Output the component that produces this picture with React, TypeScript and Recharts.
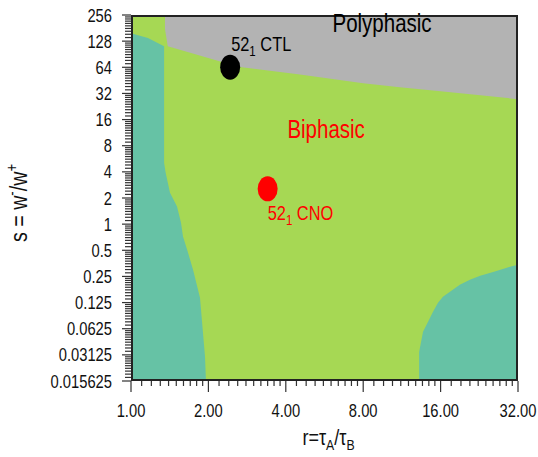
import { Area, ComposedChart, Scatter, XAxis, YAxis } from "recharts"

// the reference text is a narrow sans; Liberation Sans squeezed sideways stands in for it
const FONT = '"Liberation Sans", Arial, sans-serif'
const SQUEEZE = 0.82
const R_MIN = 1
const R_MAX = 32
const S_MIN = 0.015625
const S_MAX = 256

const rTicks = [1, 2, 4, 8, 16, 32]
const sTicks = [0.015625, 0.03125, 0.0625, 0.125, 0.25, 0.5, 1, 2, 4, 8, 16, 32, 64, 128, 256]
const minorSteps = [1.1, 1.2, 1.3, 1.4, 1.5, 1.6, 1.7, 1.8, 1.9]

// biphasic covers the whole plane, the other phases are painted over it
const biphasicR = [R_MIN, R_MAX]

// monophasic (left): upper edge of the region at each r
const monoLeftR = [1, 1.164, 1.345, 1.345, 1.364, 1.418, 1.51, 1.565, 1.593, 1.666, 1.742, 1.855, 1.94, 1.957]
const monoLeftS = [158, 139, 112, 5.1, 3.9, 2.3, 1.6, 1.04, 0.72, 0.47, 0.3, 0.142, 0.03, 0.015625]

// polyphasic: lower edge
const polyR = [1.356, 1.39, 2.26, 2.65, 4.54, 8, 11.1, 16, 32]
const polyS = [176, 112, 73.5, 64.5, 53, 42, 37.8, 33.8, 27.5]

// monophasic (bottom right): upper edge
const monoRightR = [13.2, 13.67, 14.3, 14.95, 15.63, 16.34, 17.4, 19.0, 20.8, 22.8, 26.0, 29.8, 32]
const monoRightS = [0.0338, 0.0575, 0.075, 0.098, 0.124, 0.146, 0.166, 0.2, 0.229, 0.255, 0.284, 0.323, 0.341]

const pointNames = ["CTL", "CNO"]
const pointR = [2.43, 3.4]
const pointS = [64, 2.55]

const regionNames = ["Polyphasic", "Biphasic"]
const regionR = [9.47, 5.74]
const regionS = [206, 12.4]

const biphasic = biphasicR.map((r) => ({ r, band: [S_MIN, S_MAX] }))
const monoLeft = monoLeftR.map((r, i) => ({ r, band: [S_MIN, monoLeftS[i]] }))
const poly = polyR.map((r, i) => ({ r, band: [polyS[i], S_MAX] }))
const monoRight = monoRightR.map((r, i) => ({ r, band: [S_MIN, monoRightS[i]] }))
const points = pointNames.map((name, i) => ({ name, r: pointR[i], s: pointS[i] }))
const regions = regionNames.map((name, i) => ({ name, r: regionR[i], s: regionS[i] }))

// plot frame as four thin filled bands along the domain edges
const PLOT_W = 538 - 131 - 20
const PLOT_H = 457 - 15 - 76
const FRAME_PX = 2
const kx = Math.pow(R_MAX / R_MIN, FRAME_PX / PLOT_W)
const ky = Math.pow(S_MAX / S_MIN, FRAME_PX / PLOT_H)
const frameBands = [
  [R_MIN, R_MAX].map((r) => ({ r, band: [S_MAX / ky, S_MAX] })),
  [R_MIN, R_MAX].map((r) => ({ r, band: [S_MIN, S_MIN * ky] })),
  [R_MIN, R_MIN * kx].map((r) => ({ r, band: [S_MIN, S_MAX] })),
  [R_MAX / kx, R_MAX].map((r) => ({ r, band: [S_MIN, S_MAX] })),
]

const withMinor = (major: number[]) => [
  ...major,
  ...major.slice(0, -1).flatMap((t) => minorSteps.map((m) => t * m)),
]
const rAllTicks = withMinor(rTicks)
const sAllTicks = withMinor(sTicks)

const TICK = "#333"
const FRAME = "#222"

function NText({ x, y, size, anchor = "start", fill = "#111", rotate = 0, children }: any) {
  return (
    <text
      transform={`translate(${x},${y}) rotate(${rotate}) scale(${SQUEEZE},1)`}
      fontSize={size}
      fontFamily={FONT}
      textAnchor={anchor}
      fill={fill}
    >
      {children}
    </text>
  )
}

function BottomTick({ x, y, payload }: any) {
  const major = rTicks.includes(payload.value)
  return (
    <g>
      <rect x={x - 0.6} y={y} width={1.2} height={major ? 11 : 5} fill={TICK} />
      {major && (
        <NText x={x} y={y + 36} size={18} anchor="middle">
          {payload.value.toFixed(2)}
        </NText>
      )}
    </g>
  )
}

function TopTick({ x, y, payload }: any) {
  const len = rTicks.includes(payload.value) ? 10 : 5
  return <rect x={x - 0.6} y={y - len} width={1.2} height={len} fill={TICK} />
}

function LeftTick({ x, y, payload }: any) {
  const major = sTicks.includes(payload.value)
  const len = major ? 9 : 6
  return (
    <g>
      <rect x={x - len} y={y - 0.6} width={len} height={1.2} fill={TICK} />
      {major && (
        <NText x={x - 19} y={y + 6.5} size={18} anchor="end">
          {String(payload.value)}
        </NText>
      )}
    </g>
  )
}

function RightTick({ x, y, payload }: any) {
  const len = sTicks.includes(payload.value) ? 10 : 6
  return <rect x={x} y={y - 0.6} width={len} height={1.2} fill={TICK} />
}

function XTitle({ viewBox }: any) {
  const cx = viewBox.x + viewBox.width / 2 + 4
  return (
    <NText x={cx} y={445} size={22} anchor="middle">
      <tspan>r=τ</tspan>
      <tspan fontSize={15} dy={5}>A</tspan>
      <tspan dy={-5}>/τ</tspan>
      <tspan fontSize={15} dy={5}>B</tspan>
    </NText>
  )
}

function YTitle({ viewBox }: any) {
  const cy = viewBox.y + viewBox.height / 2 + 5
  return (
    <NText x={27} y={cy} size={24} anchor="middle" rotate={-90}>
      <tspan>s = w</tspan>
      <tspan fontSize={16} dy={-10}>-</tspan>
      <tspan dy={10}>/w</tspan>
      <tspan fontSize={16} dy={-10}>+</tspan>
    </NText>
  )
}

const labelPlace: Record<string, { dx: number; dy: number; color: string }> = {
  CTL: { dx: 1, dy: -16, color: "#000" },
  CNO: { dx: 0, dy: 31, color: "#ff0000" },
}

function PointMark({ cx, cy, payload }: any) {
  const p = labelPlace[payload.name]
  return (
    <g>
      <ellipse cx={cx} cy={cy} rx={10} ry={12.5} fill={p.color} />
      <NText x={cx + p.dx} y={cy + p.dy} size={20} fill={p.color}>
        <tspan>52</tspan>
        <tspan fontSize={14} dy={5}>1</tspan>
        <tspan dy={-5}> {payload.name}</tspan>
      </NText>
    </g>
  )
}

function RegionLabel({ cx, cy, payload }: any) {
  return (
    <NText x={cx} y={cy + 9} size={25} anchor="middle" fill={payload.name === "Biphasic" ? "#ff0000" : "#000"}>
      {payload.name}
    </NText>
  )
}

const fillArea = (data: any[], fill: string, key: string, axes: any = {}) => (
  <Area
    key={key}
    data={data}
    dataKey="band"
    type="linear"
    stroke="none"
    fill={fill}
    fillOpacity={1}
    isAnimationActive={false}
    dot={false}
    activeDot={false}
    {...axes}
  />
)

export default function App() {
  return (
    <div style={{ position: "absolute", left: 0, top: 0 }}>
      <ComposedChart width={538} height={457} margin={{ top: 15, right: 20, bottom: 0, left: 0 }}>
        <XAxis
          dataKey="r"
          type="number"
          scale="log"
          domain={[R_MIN, R_MAX]}
          ticks={rAllTicks}
          interval={0}
          tickSize={0}
          tickMargin={0}
          tickLine={false}
          height={76}
          axisLine={false}
          tick={BottomTick}
          label={{ content: XTitle }}
        />
        <XAxis
          xAxisId="top"
          dataKey="r"
          type="number"
          scale="log"
          orientation="top"
          domain={[R_MIN, R_MAX]}
          ticks={rAllTicks}
          interval={0}
          tickSize={0}
          tickMargin={0}
          tickLine={false}
          height={0}
          axisLine={false}
          tick={TopTick}
        />
        <YAxis
          type="number"
          scale="log"
          domain={[S_MIN, S_MAX]}
          ticks={sAllTicks}
          interval={0}
          tickSize={0}
          tickMargin={0}
          tickLine={false}
          width={131}
          axisLine={false}
          tick={LeftTick}
          label={{ content: YTitle }}
        />
        <YAxis
          yAxisId="right"
          type="number"
          scale="log"
          orientation="right"
          domain={[S_MIN, S_MAX]}
          ticks={sAllTicks}
          interval={0}
          tickSize={0}
          tickMargin={0}
          tickLine={false}
          width={0}
          axisLine={false}
          tick={RightTick}
        />
        {fillArea(biphasic, "#a6d854", "bi")}
        {fillArea(monoLeft, "#66c2a5", "ml")}
        {fillArea(monoRight, "#66c2a5", "mr")}
        {fillArea(poly, "#b3b3b3", "po")}
        {frameBands.map((band, i) => fillArea(band, FRAME, `f${i}`))}
        {frameBands.map((band, i) => fillArea(band, FRAME, `g${i}`, { xAxisId: "top", yAxisId: "right" }))}
        <Scatter data={regions} dataKey="s" shape={RegionLabel} isAnimationActive={false} />
        <Scatter data={points} dataKey="s" shape={PointMark} isAnimationActive={false} />
      </ComposedChart>
    </div>
  )
}
